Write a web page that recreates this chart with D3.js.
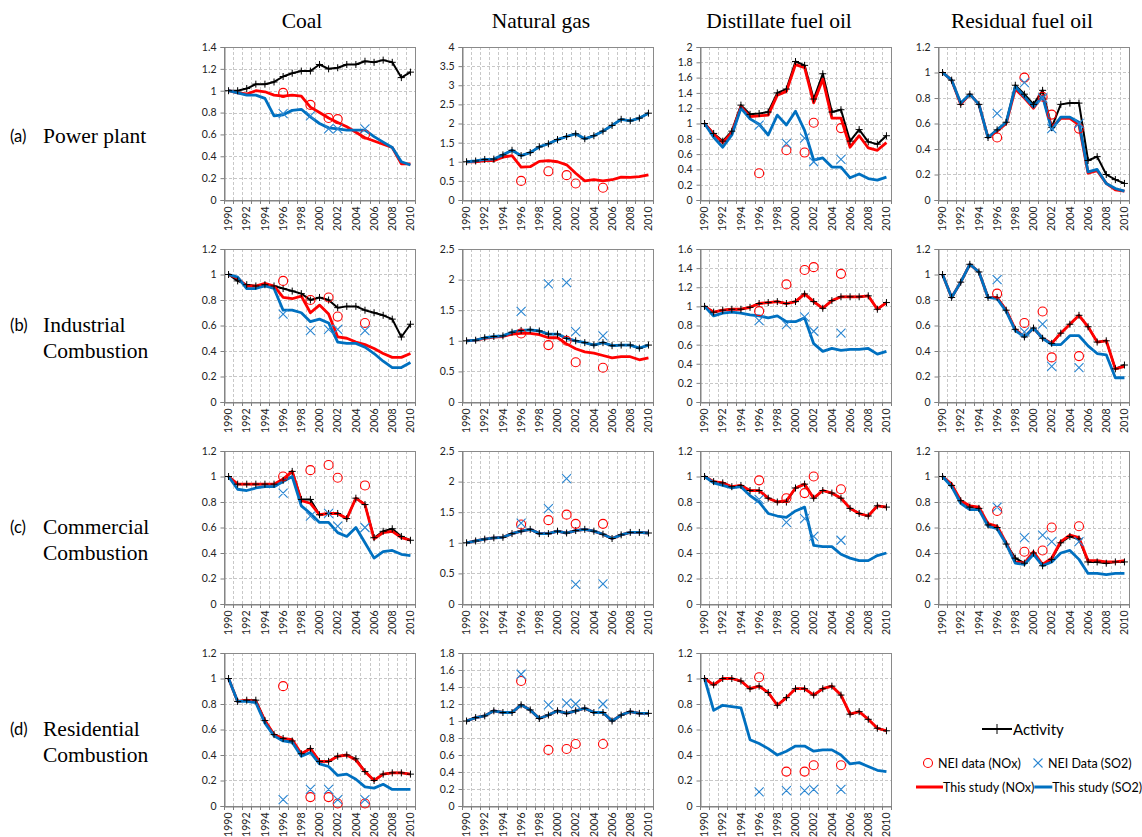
<!DOCTYPE html>
<html>
<head>
<meta charset="utf-8">
<script src="https://cdn.jsdelivr.net/npm/d3@7"></script>
<style>
  body { margin: 0; background: #fff; }
  svg { display: block; }
</style>
</head>
<body>
<svg id="chart" width="1142" height="837"></svg>
<script>
// ---- categories and labels ----
const years = [1990,1991,1992,1993,1994,1995,1996,1997,1998,1999,2000,2001,2002,2003,2004,2005,2006,2007,2008,2009,2010];
const labelYears = [1990,1992,1994,1996,1998,2000,2002,2004,2006,2008,2010];
const neiYears = [1996,1999,2001,2002,2005];
const fuels = ["Coal", "Natural gas", "Distillate fuel oil", "Residual fuel oil"];
const sectorTags = ["(a)", "(b)", "(c)", "(d)"];
const sectorNames = [["Power plant"], ["Industrial", "Combustion"], ["Commercial", "Combustion"], ["Residential", "Combustion"]];

// y-axis maxima and steps, by sector row and fuel column
const axisMax  = [[1.4, 4, 2, 1.2], [1.2, 2.5, 1.6, 1.2], [1.2, 2.5, 1.2, 1.2], [1.2, 1.8, 1.2]];
const axisStep = [[0.2, 0.5, 0.2, 0.2], [0.2, 0.5, 0.2, 0.2], [0.2, 0.5, 0.2, 0.2], [0.2, 0.2, 0.2]];

// ---- (a) Power plant ----
const powerCoalActivity = [1.00,1.00,1.02,1.06,1.06,1.08,1.13,1.16,1.18,1.18,1.24,1.20,1.21,1.24,1.24,1.27,1.26,1.28,1.26,1.12,1.17];
const powerCoalNOx      = [1.00,0.98,0.97,1.00,0.99,0.96,0.95,0.96,0.95,0.85,0.80,0.75,0.71,0.67,0.62,0.57,0.54,0.51,0.48,0.33,0.33];
const powerCoalSO2      = [1.00,0.98,0.96,0.96,0.93,0.77,0.78,0.82,0.83,0.76,0.70,0.66,0.65,0.64,0.64,0.64,0.58,0.53,0.48,0.35,0.32];
const powerCoalNeiNOx   = [0.98,0.87,0.75,0.74,0.60];
const powerCoalNeiSO2   = [0.79,0.77,0.65,0.65,0.65];

const powerGasActivity  = [1.00,1.02,1.06,1.07,1.18,1.30,1.16,1.24,1.39,1.47,1.58,1.66,1.73,1.60,1.68,1.80,1.95,2.11,2.07,2.14,2.27];
const powerGasNOx       = [1.00,1.00,1.03,1.03,1.12,1.16,0.86,0.87,1.01,1.03,1.00,0.92,0.70,0.50,0.53,0.50,0.53,0.60,0.59,0.61,0.66];
const powerGasSO2       = [1.00,1.02,1.06,1.07,1.18,1.30,1.16,1.24,1.39,1.47,1.58,1.66,1.73,1.60,1.68,1.80,1.95,2.11,2.07,2.14,2.27];
const powerGasNeiNOx    = [0.50,0.75,0.65,0.43,0.32];
const powerGasNeiSO2    = [null,null,null,null,null];

const powerDistActivity = [1.00,0.87,0.77,0.90,1.24,1.12,1.13,1.15,1.40,1.45,1.81,1.76,1.32,1.65,1.15,1.18,0.77,0.92,0.76,0.73,0.84];
const powerDistNOx      = [1.00,0.86,0.75,0.88,1.22,1.09,1.10,1.11,1.37,1.42,1.77,1.73,1.27,1.58,1.07,1.07,0.69,0.84,0.68,0.65,0.75];
const powerDistSO2      = [1.00,0.82,0.69,0.85,1.20,1.06,0.99,0.85,1.11,0.98,1.16,0.91,0.52,0.55,0.43,0.43,0.29,0.34,0.28,0.26,0.30];
const powerDistNeiNOx   = [0.35,0.65,0.62,1.01,0.94];
const powerDistNeiSO2   = [0.98,0.74,0.81,0.50,0.53];

const powerResidActivity = [1.00,0.94,0.75,0.83,0.75,0.49,0.55,0.61,0.90,0.83,0.75,0.86,0.57,0.75,0.76,0.76,0.31,0.34,0.20,0.16,0.13];
const powerResidNOx      = [1.00,0.94,0.75,0.83,0.75,0.49,0.54,0.60,0.87,0.80,0.72,0.82,0.57,0.64,0.64,0.59,0.21,0.23,0.13,0.08,0.07];
const powerResidSO2      = [1.00,0.94,0.76,0.83,0.75,0.49,0.55,0.61,0.89,0.81,0.73,0.81,0.55,0.65,0.65,0.61,0.22,0.24,0.13,0.09,0.07];
const powerResidNeiNOx   = [0.49,0.96,0.81,0.67,0.56];
const powerResidNeiSO2   = [0.68,0.92,0.80,0.56,0.60];

// ---- (b) Industrial combustion ----
const indCoalActivity = [1.00,0.95,0.92,0.91,0.92,0.91,0.89,0.87,0.85,0.80,0.82,0.80,0.74,0.75,0.75,0.72,0.70,0.68,0.65,0.51,0.61];
const indCoalNOx      = [1.00,0.97,0.91,0.91,0.93,0.91,0.82,0.81,0.83,0.70,0.76,0.69,0.51,0.50,0.47,0.45,0.42,0.38,0.35,0.35,0.38];
const indCoalSO2      = [1.00,0.98,0.89,0.89,0.91,0.89,0.72,0.72,0.70,0.63,0.65,0.62,0.47,0.46,0.46,0.43,0.38,0.32,0.27,0.27,0.31];
const indCoalNeiNOx   = [0.95,0.80,0.82,0.67,0.62];
const indCoalNeiSO2   = [0.69,0.56,0.57,0.57,0.56];

const indGasActivity  = [1.00,1.01,1.05,1.07,1.08,1.14,1.17,1.18,1.16,1.11,1.11,1.04,1.00,0.97,0.93,0.97,0.92,0.93,0.93,0.88,0.93];
const indGasNOx       = [1.00,1.01,1.04,1.06,1.07,1.11,1.12,1.12,1.10,1.05,1.05,0.95,0.87,0.82,0.80,0.76,0.72,0.74,0.74,0.69,0.72];
const indGasSO2       = [1.00,1.01,1.05,1.07,1.08,1.14,1.17,1.18,1.16,1.11,1.11,1.04,1.00,0.97,0.93,0.97,0.92,0.93,0.93,0.88,0.93];
const indGasNeiNOx    = [1.12,0.93,1.00,0.65,0.56];
const indGasNeiSO2    = [1.48,1.93,1.95,1.15,1.08];

const indDistActivity = [1.00,0.94,0.96,0.97,0.97,0.99,1.03,1.04,1.05,1.03,1.05,1.13,1.05,0.98,1.06,1.10,1.10,1.10,1.11,0.97,1.04];
const indDistNOx      = [1.00,0.94,0.96,0.97,0.97,0.99,1.03,1.04,1.05,1.03,1.05,1.13,1.05,0.98,1.06,1.10,1.10,1.10,1.11,0.97,1.04];
const indDistSO2      = [1.00,0.90,0.93,0.94,0.93,0.91,0.90,0.88,0.90,0.84,0.84,0.88,0.61,0.53,0.56,0.54,0.55,0.55,0.56,0.50,0.53];
const indDistNeiNOx   = [0.95,1.23,1.38,1.41,1.34];
const indDistNeiSO2   = [0.85,0.81,0.89,0.74,0.72];

const indResidActivity = [1.00,0.82,0.94,1.08,1.02,0.82,0.82,0.72,0.57,0.51,0.58,0.50,0.46,0.54,0.61,0.68,0.59,0.47,0.48,0.26,0.29];
const indResidNOx      = [1.00,0.82,0.94,1.08,1.02,0.82,0.82,0.72,0.57,0.51,0.58,0.50,0.46,0.54,0.61,0.68,0.59,0.47,0.48,0.26,0.28];
const indResidSO2      = [1.00,0.82,0.94,1.08,1.02,0.82,0.81,0.71,0.56,0.51,0.58,0.50,0.45,0.45,0.52,0.52,0.44,0.38,0.37,0.19,0.19];
const indResidNeiNOx   = [0.85,0.62,0.71,0.35,0.36];
const indResidNeiSO2   = [0.96,0.55,0.61,0.28,0.27];

// ---- (c) Commercial combustion ----
const comCoalActivity = [1.00,0.94,0.94,0.94,0.94,0.94,0.97,1.04,0.82,0.82,0.70,0.71,0.71,0.67,0.83,0.78,0.52,0.57,0.59,0.53,0.50];
const comCoalNOx      = [1.00,0.94,0.94,0.94,0.94,0.94,0.98,1.04,0.81,0.79,0.70,0.71,0.71,0.67,0.83,0.78,0.51,0.56,0.57,0.52,0.50];
const comCoalSO2      = [1.00,0.90,0.89,0.91,0.92,0.92,0.96,1.00,0.77,0.71,0.64,0.64,0.56,0.53,0.60,0.48,0.36,0.41,0.42,0.39,0.38];
const comCoalNeiNOx   = [1.00,1.05,1.09,0.99,0.93];
const comCoalNeiSO2   = [0.87,0.69,0.71,0.61,0.60];

const comGasActivity  = [1.00,1.03,1.06,1.08,1.09,1.15,1.19,1.22,1.15,1.15,1.19,1.16,1.20,1.22,1.19,1.14,1.07,1.13,1.17,1.17,1.16];
const comGasNOx       = [1.00,1.03,1.06,1.08,1.09,1.15,1.19,1.22,1.15,1.15,1.19,1.16,1.20,1.22,1.19,1.14,1.07,1.13,1.17,1.17,1.16];
const comGasSO2       = [1.00,1.03,1.06,1.08,1.09,1.15,1.19,1.22,1.15,1.15,1.19,1.16,1.20,1.22,1.19,1.14,1.07,1.13,1.17,1.17,1.16];
const comGasNeiNOx    = [1.30,1.37,1.46,1.31,1.31];
const comGasNeiSO2    = [1.32,1.56,2.05,0.32,0.33];

const comDistActivity = [1.00,0.96,0.95,0.92,0.93,0.89,0.89,0.83,0.80,0.80,0.91,0.94,0.83,0.89,0.87,0.83,0.75,0.71,0.69,0.77,0.76];
const comDistNOx      = [1.00,0.96,0.95,0.92,0.93,0.89,0.89,0.83,0.80,0.81,0.91,0.94,0.83,0.89,0.87,0.83,0.75,0.71,0.69,0.77,0.76];
const comDistSO2      = [1.00,0.95,0.93,0.91,0.92,0.85,0.80,0.71,0.69,0.68,0.73,0.76,0.46,0.45,0.45,0.39,0.36,0.34,0.34,0.38,0.40];
const comDistNeiNOx   = [0.97,0.83,0.87,1.00,0.90];
const comDistNeiSO2   = [0.82,0.64,0.67,0.53,0.50];

const comResidActivity = [1.00,0.93,0.81,0.76,0.75,0.62,0.60,0.47,0.36,0.32,0.40,0.30,0.35,0.48,0.53,0.51,0.33,0.33,0.32,0.33,0.33];
const comResidNOx      = [1.00,0.94,0.81,0.77,0.76,0.63,0.61,0.48,0.33,0.32,0.41,0.31,0.36,0.49,0.54,0.52,0.34,0.34,0.33,0.33,0.34];
const comResidSO2      = [1.00,0.92,0.79,0.74,0.74,0.61,0.59,0.47,0.32,0.31,0.39,0.30,0.33,0.40,0.42,0.35,0.24,0.24,0.23,0.24,0.24];
const comResidNeiNOx   = [0.73,0.41,0.42,0.60,0.61];
const comResidNeiSO2   = [0.76,0.52,0.54,0.49,0.49];

// ---- (d) Residential combustion ----
const resCoalActivity = [1.00,0.82,0.83,0.83,0.67,0.56,0.53,0.51,0.41,0.45,0.35,0.35,0.39,0.40,0.37,0.27,0.20,0.25,0.26,0.26,0.25];
const resCoalNOx      = [1.00,0.82,0.83,0.82,0.67,0.56,0.53,0.52,0.41,0.45,0.35,0.35,0.39,0.40,0.36,0.27,0.20,0.25,0.26,0.26,0.25];
const resCoalSO2      = [1.00,0.82,0.82,0.81,0.65,0.55,0.51,0.50,0.39,0.42,0.33,0.31,0.24,0.25,0.21,0.15,0.14,0.17,0.13,0.13,0.13];
const resCoalNeiNOx   = [0.94,0.07,0.07,0.02,0.02];
const resCoalNeiSO2   = [0.05,0.13,0.13,0.05,0.05];

const resGasActivity  = [1.00,1.04,1.06,1.12,1.10,1.10,1.19,1.13,1.03,1.07,1.12,1.09,1.12,1.15,1.10,1.10,1.00,1.07,1.11,1.09,1.09];
const resGasNOx       = [1.00,1.04,1.06,1.12,1.10,1.10,1.19,1.13,1.03,1.07,1.12,1.09,1.12,1.15,1.10,1.10,1.00,1.07,1.11,1.09,1.09];
const resGasSO2       = [1.00,1.04,1.06,1.12,1.10,1.10,1.19,1.13,1.03,1.07,1.12,1.09,1.12,1.15,1.10,1.10,1.00,1.07,1.11,1.09,1.09];
const resGasNeiNOx    = [1.47,0.66,0.67,0.73,0.73];
const resGasNeiSO2    = [1.55,1.19,1.21,1.20,1.20];

const resDistActivity = [1.00,0.95,1.00,1.00,0.98,0.92,0.94,0.89,0.79,0.85,0.92,0.92,0.87,0.92,0.94,0.87,0.72,0.74,0.68,0.61,0.59];
const resDistNOx      = [1.00,0.95,1.00,1.00,0.98,0.92,0.94,0.89,0.79,0.85,0.92,0.92,0.87,0.92,0.94,0.87,0.72,0.74,0.68,0.61,0.59];
const resDistSO2      = [1.00,0.75,0.79,0.78,0.77,0.52,0.49,0.45,0.40,0.43,0.47,0.47,0.43,0.44,0.44,0.40,0.33,0.34,0.31,0.28,0.27];
const resDistNeiNOx   = [1.01,0.27,0.27,0.32,0.32];
const resDistNeiSO2   = [0.11,0.12,0.12,0.13,0.13];

// panel table: [row, col, activity, NOx, SO2, NEI NOx, NEI SO2]
const panels = [
  [0,0, powerCoalActivity, powerCoalNOx, powerCoalSO2, powerCoalNeiNOx, powerCoalNeiSO2],
  [0,1, powerGasActivity, powerGasNOx, powerGasSO2, powerGasNeiNOx, powerGasNeiSO2],
  [0,2, powerDistActivity, powerDistNOx, powerDistSO2, powerDistNeiNOx, powerDistNeiSO2],
  [0,3, powerResidActivity, powerResidNOx, powerResidSO2, powerResidNeiNOx, powerResidNeiSO2],
  [1,0, indCoalActivity, indCoalNOx, indCoalSO2, indCoalNeiNOx, indCoalNeiSO2],
  [1,1, indGasActivity, indGasNOx, indGasSO2, indGasNeiNOx, indGasNeiSO2],
  [1,2, indDistActivity, indDistNOx, indDistSO2, indDistNeiNOx, indDistNeiSO2],
  [1,3, indResidActivity, indResidNOx, indResidSO2, indResidNeiNOx, indResidNeiSO2],
  [2,0, comCoalActivity, comCoalNOx, comCoalSO2, comCoalNeiNOx, comCoalNeiSO2],
  [2,1, comGasActivity, comGasNOx, comGasSO2, comGasNeiNOx, comGasNeiSO2],
  [2,2, comDistActivity, comDistNOx, comDistSO2, comDistNeiNOx, comDistNeiSO2],
  [2,3, comResidActivity, comResidNOx, comResidSO2, comResidNeiNOx, comResidNeiSO2],
  [3,0, resCoalActivity, resCoalNOx, resCoalSO2, resCoalNeiNOx, resCoalNeiSO2],
  [3,1, resGasActivity, resGasNOx, resGasSO2, resGasNeiNOx, resGasNeiSO2],
  [3,2, resDistActivity, resDistNOx, resDistSO2, resDistNeiNOx, resDistNeiSO2]
];

// ---- layout ----
const colLeft = [224, 462, 700, 938];
const rowTop = [47, 249, 451, 653];
const plotW = 191, plotH = 153;
const titleX = [302, 541, 779, 1022];
const RED = "#ff0000", BLUE = "#0070c0", XBLUE = "#2a86d2";
const tickFont = "Lato, 'Open Sans', sans-serif";
const serifFont = "'Liberation Serif', 'Times New Roman', serif";

const svg = d3.select("#chart");

function plusPath(cx, cy, s) {
  return `M${cx - s},${cy}H${cx + s}M${cx},${cy - s}V${cy + s}`;
}
function crossPath(cx, cy, s) {
  return `M${cx - s},${cy - s}L${cx + s},${cy + s}M${cx - s},${cy + s}L${cx + s},${cy - s}`;
}

function drawPanel([row, col, act, nox, so2, neiNox, neiSo2]) {
  const g = svg.append("g").attr("transform", `translate(${colLeft[col]},${rowTop[row]})`);
  const x = d3.scaleBand().domain(years).range([0, plotW]);
  const cx = yr => x(yr) + x.bandwidth() / 2;
  const max = axisMax[row][col], step = axisStep[row][col];
  const y = d3.scaleLinear().domain([0, max]).range([plotH, 0]);
  const ticks = d3.range(0, Math.round(max / step) + 1).map(i => +(i * step).toFixed(2));

  // dashed grid: horizontal at ticks, vertical at category boundaries
  g.append("g").selectAll("line").data(ticks.slice(1)).join("line")
    .attr("x1", 0).attr("x2", plotW)
    .attr("y1", d => Math.round(y(d)) + 0.5).attr("y2", d => Math.round(y(d)) + 0.5)
    .attr("stroke", "#c8c8c8").attr("stroke-dasharray", "3,2");
  g.append("g").selectAll("line").data(years.slice(1)).join("line")
    .attr("x1", d => Math.round(x(d)) + 0.5).attr("x2", d => Math.round(x(d)) + 0.5)
    .attr("y1", 0).attr("y2", plotH)
    .attr("stroke", "#c8c8c8").attr("stroke-dasharray", "3,2");

  g.append("rect").attr("x", 0.5).attr("y", 0.5).attr("width", plotW).attr("height", plotH)
    .attr("fill", "none").attr("stroke", "#8a8a8a");

  // y axis
  const ya = g.append("g").attr("transform", "translate(0.5,0)")
    .call(d3.axisLeft(y).tickValues(ticks).tickSize(4).tickPadding(4)
      .tickFormat(d => String(+d.toFixed(2))));
  ya.select(".domain").attr("stroke", "#808080");
  ya.selectAll(".tick line").attr("stroke", "#808080");
  ya.selectAll("text").attr("fill", "#222").style("font", `10.5px ${tickFont}`);

  // x axis: labels every second year, tick marks between categories
  const xa = g.append("g").attr("transform", `translate(0,${plotH + 0.5})`)
    .call(d3.axisBottom(x).tickValues(labelYears).tickSize(0));
  xa.select(".domain").attr("stroke", "#808080");
  xa.selectAll("text").attr("fill", "#222").style("font", `10.5px ${tickFont}`)
    .attr("transform", "rotate(-90)").attr("x", -6).attr("y", 0).attr("dy", "0.35em")
    .style("text-anchor", "end");
  g.append("g").selectAll("line").data(years.concat([null])).join("line")
    .attr("x1", (d, i) => Math.round(i * x.step()) + 0.5)
    .attr("x2", (d, i) => Math.round(i * x.step()) + 0.5)
    .attr("y1", plotH).attr("y2", plotH + 4).attr("stroke", "#808080");

  const line = d3.line().x((d, i) => cx(years[i])).y(d => y(d));
  g.append("path").attr("d", line(act)).attr("fill", "none").attr("stroke", "#000")
    .attr("stroke-width", 2).attr("stroke-linejoin", "round");
  g.append("path").attr("d", line(nox)).attr("fill", "none").attr("stroke", RED)
    .attr("stroke-width", 2.8).attr("stroke-linejoin", "round");
  g.append("path").attr("d", line(so2)).attr("fill", "none").attr("stroke", BLUE)
    .attr("stroke-width", 2.8).attr("stroke-linejoin", "round");

  // activity markers
  g.append("path").attr("d", act.map((v, i) => plusPath(cx(years[i]), y(v), 3.5)).join(""))
    .attr("stroke", "#000").attr("stroke-width", 1).attr("fill", "none");

  // NEI points
  const noxPts = neiYears.map((yr, i) => [yr, neiNox[i]]).filter(d => d[1] != null);
  const so2Pts = neiYears.map((yr, i) => [yr, neiSo2[i]]).filter(d => d[1] != null);
  g.append("g").selectAll("circle").data(noxPts).join("circle")
    .attr("cx", d => cx(d[0])).attr("cy", d => y(d[1])).attr("r", 4.5)
    .attr("fill", "none").attr("stroke", RED).attr("stroke-width", 1.1);
  g.append("path").attr("d", so2Pts.map(d => crossPath(cx(d[0]), y(d[1]), 4.5)).join(""))
    .attr("stroke", XBLUE).attr("stroke-width", 1.1).attr("fill", "none");
}

panels.forEach(drawPanel);

// column titles
svg.append("g").selectAll("text").data(fuels).join("text")
  .attr("x", (d, i) => titleX[i]).attr("y", 28)
  .attr("text-anchor", "middle")
  .style("font", `21.5px ${serifFont}`).attr("fill", "#000")
  .text(d => d);

// row labels
sectorTags.forEach((tag, r) => {
  const names = sectorNames[r];
  const base = rowTop[r] + (names.length === 1 ? 96 : 83);
  svg.append("text").attr("x", 10).attr("y", base - 1)
    .style("font", `16.5px ${tickFont}`).attr("fill", "#000").text(tag);
  names.forEach((name, k) => {
    svg.append("text").attr("x", 43).attr("y", base + k * 26)
      .style("font", `21.5px ${serifFont}`).attr("fill", "#000")
      .text(name);
  });
});

// legend
const lg = svg.append("g").style("font", `12.5px ${tickFont}`).attr("fill", "#000");
lg.append("line").attr("x1", 982).attr("x2", 1012).attr("y1", 729).attr("y2", 729)
  .attr("stroke", "#000").attr("stroke-width", 2);
lg.append("path").attr("d", plusPath(997, 729, 5)).attr("stroke", "#000").attr("stroke-width", 1);
lg.append("text").attr("x", 1013).attr("y", 734.5).style("font-size", "15px").text("Activity");

lg.append("circle").attr("cx", 928).attr("cy", 763).attr("r", 4.5)
  .attr("fill", "none").attr("stroke", RED).attr("stroke-width", 1.1);
lg.append("text").attr("x", 938).attr("y", 767.5).text("NEI data (NOx)");
lg.append("path").attr("d", crossPath(1038, 763, 4.5)).attr("stroke", XBLUE).attr("stroke-width", 1.1);
lg.append("text").attr("x", 1048).attr("y", 767.5).text("NEI Data (SO2)");

lg.append("line").attr("x1", 916).attr("x2", 943).attr("y1", 787).attr("y2", 787)
  .attr("stroke", RED).attr("stroke-width", 3);
const t1 = lg.append("text").attr("x", 943).attr("y", 791.5).text("This study (NOx)");
const t1end = 943 + t1.node().getComputedTextLength();
lg.append("line").attr("x1", t1end).attr("x2", t1end + 18).attr("y1", 787).attr("y2", 787)
  .attr("stroke", BLUE).attr("stroke-width", 3);
lg.append("text").attr("x", t1end + 18).attr("y", 791.5).text("This study (SO2)");
</script>
</body>
</html>
